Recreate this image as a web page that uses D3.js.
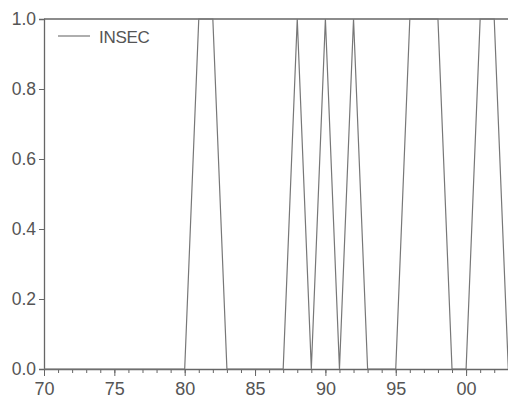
<!DOCTYPE html>
<html>
<head>
<meta charset="utf-8">
<script src="https://cdn.jsdelivr.net/npm/d3@7"></script>
<style>
  body { margin: 0; background: #fff; }
  svg text { font-family: Arial, "Liberation Sans", sans-serif; fill: #555; }
</style>
</head>
<body>
<div id="chart"></div>
<script>
// INSEC dummy series, yearly
const years = d3.range(1970, 2004);
const insec = [0,0,0,0,0,0,0,0,0,0,0, 1,1,0,0,0,0,0,1,0,1,0,1,0,0,0,1,1,1,0,0,1,1,0];
const yTicks = [0, 0.2, 0.4, 0.6, 0.8, 1.0];
const xMajor = [1970, 1975, 1980, 1985, 1990, 1995, 2000];

const width = 508, height = 406;
const svg = d3.select('#chart').append('svg')
    .attr('width', width)
    .attr('height', height);

const x = d3.scaleLinear().domain([1970, 2003]).range([44, 508.3]);
const y = d3.scaleLinear().domain([0, 1]).range([369, 19]);
const axisColor = '#666';

// frame: top and left
svg.append('line')
    .attr('x1', x(1970)).attr('x2', width)
    .attr('y1', y(1)).attr('y2', y(1))
    .attr('stroke', axisColor).attr('stroke-width', 1.3);

// y axis
const yAxis = svg.append('g')
    .attr('transform', `translate(${x(1970)},0)`)
    .call(d3.axisLeft(y).tickValues(yTicks).tickFormat(d3.format('.1f')).tickSize(5).tickPadding(3));
yAxis.select('.domain').attr('stroke', axisColor).attr('stroke-width', 1.3);
yAxis.selectAll('.tick line').attr('stroke', axisColor);
yAxis.selectAll('.tick text').attr('font-size', 17.5).style('fill', '#555');

// x axis: minor yearly ticks then major ticks with labels
const xMinor = svg.append('g')
    .attr('transform', `translate(0,${y(0)})`)
    .call(d3.axisBottom(x).tickValues(years).tickFormat('').tickSize(4).tickSizeOuter(0));
xMinor.select('.domain').attr('stroke', axisColor).attr('stroke-width', 1.3);
xMinor.selectAll('.tick line').attr('stroke', axisColor);

const xAxis = svg.append('g')
    .attr('transform', `translate(0,${y(0)})`)
    .call(d3.axisBottom(x).tickValues(xMajor)
        .tickFormat(d => String(d % 100).padStart(2, '0'))
        .tickSize(7).tickSizeOuter(0).tickPadding(6));
xAxis.select('.domain').remove();
xAxis.selectAll('.tick line').attr('stroke', axisColor);
xAxis.selectAll('.tick text').attr('font-size', 18).style('fill', '#555');

// series line
const line = d3.line()
    .x((d, i) => x(years[i]))
    .y(d => y(d));

svg.append('path')
    .datum(insec)
    .attr('d', line)
    .attr('fill', 'none')
    .attr('stroke', '#777')
    .attr('stroke-width', 1.2);

// legend
svg.append('line')
    .attr('x1', 58).attr('x2', 90)
    .attr('y1', 36).attr('y2', 36)
    .attr('stroke', '#777').attr('stroke-width', 1.2);
svg.append('text')
    .attr('x', 99).attr('y', 43)
    .attr('font-size', 17)
    .attr('letter-spacing', -0.3)
    .text('INSEC');
</script>
</body>
</html>
